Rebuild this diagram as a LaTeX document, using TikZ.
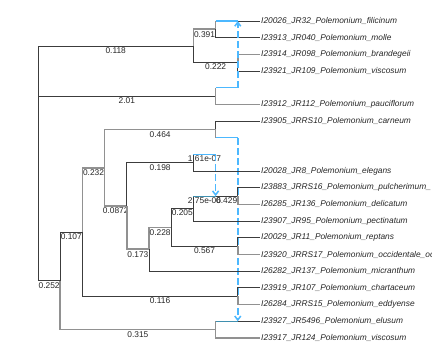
\documentclass[tikz,border=0pt]{standalone}
\usepackage{fontspec}
\setmainfont{Liberation Sans}
\usetikzlibrary{arrows.meta}
\definecolor{dkline}{HTML}{3C3C3C}
\definecolor{grline}{HTML}{919191}
\definecolor{hybblue}{HTML}{4CB8FF}
\definecolor{hybteal}{HTML}{3F8FAF}
\tikzstyle{tip}=[anchor=west, inner xsep=1bp, inner ysep=0pt, font=\fontsize{8.4}{10}\selectfont\itshape, text=black!85]
\tikzstyle{blabel}=[anchor=north, inner sep=1bp, font=\fontsize{8.4}{10}\selectfont, text=black!85]
\tikzstyle{dk}=[draw=dkline, line width=0.8bp]
\tikzstyle{gr}=[draw=grline, line width=1.7bp]
\tikzstyle{hyb}=[draw=hybblue, line width=1.1bp]
\tikzstyle{hybmaj}=[draw=hybteal, line width=1bp]
\tikzstyle{retic}=[draw=hybblue, line width=1.5bp, dash pattern=on 7bp off 3bp, -{Straight Barb[length=4bp,width=6bp]}]

\begin{document}
\begin{tikzpicture}[x=22.2bp,y=-16.68bp]
\useasboundingbox (-1.7117,-0.259) rectangle (17.748,21.324);

% internal nodes (column, row)
\coordinate (root) at (0,9.537);
\coordinate (a) at (7,2.5);
\coordinate (a1) at (8,1.5);
\coordinate (h1) at (9,1);
\coordinate (a2) at (9,3.5);
\coordinate (b) at (8,5.5);
\coordinate (h1m) at (9,5);
\coordinate (i) at (1,16.574);
\coordinate (d) at (2,13.648);
\coordinate (e) at (3,9.797);
\coordinate (c) at (8,7.5);
\coordinate (h2m) at (9,8);
\coordinate (f) at (4,12.094);
\coordinate (g) at (7,9.5);
\coordinate (h3m) at (8,9);
\coordinate (hn) at (5,14.688);
\coordinate (j) at (6,13.375);
\coordinate (k) at (7,12.25);
\coordinate (h3) at (8,11.5);
\coordinate (n89) at (9,11.5);
\coordinate (n1112) at (9,14.5);
\coordinate (n1415) at (9,17.5);
\coordinate (n1617) at (8,19.5);
\coordinate (h2) at (9,19);

% tips
\node[tip] (t1) at (10,1) {I20026\_JR32\_Polemonium\_filicinum};
\node[tip] (t2) at (10,2) {I23913\_JR040\_Polemonium\_molle};
\node[tip] (t3) at (10,3) {I23914\_JR098\_Polemonium\_brandegeii};
\node[tip] (t4) at (10,4) {I23921\_JR109\_Polemonium\_viscosum};
\node[tip] (t5) at (10,6) {I23912\_JR112\_Polemonium\_pauciflorum};
\node[tip] (t6) at (10,7) {I23905\_JRRS10\_Polemonium\_carneum};
\node[tip] (t7) at (10,10) {I20028\_JR8\_Polemonium\_elegans};
\node[tip] (t8) at (10,11) {I23883\_JRRS16\_Polemonium\_pulcherimum\_};
\node[tip] (t9) at (10,12) {I26285\_JR136\_Polemonium\_delicatum};
\node[tip] (t10) at (10,13) {I23907\_JR95\_Polemonium\_pectinatum};
\node[tip] (t11) at (10,14) {I20029\_JR11\_Polemonium\_reptans};
\node[tip] (t12) at (10,15) {I23920\_JRRS17\_Polemonium\_occidentale\_oc};
\node[tip] (t13) at (10,16) {I26282\_JR137\_Polemonium\_micranthum};
\node[tip] (t14) at (10,17) {I23919\_JR107\_Polemonium\_chartaceum};
\node[tip] (t15) at (10,18) {I26284\_JRRS15\_Polemonium\_eddyense};
\node[tip] (t16) at (10,19) {I23927\_JR5496\_Polemonium\_elusum};
\node[tip] (t17) at (10,20) {I23917\_JR124\_Polemonium\_viscosum};

% root
\draw[dk] (root) |- node[blabel,pos=0.75] {0.118} (a);
\draw[dk] (root) |- node[blabel,pos=0.75] {2.01} (b);
\draw[dk] (root) |- node[blabel,pos=0.75] {0.252} (i);

% upper clade
\draw[gr] (a) |- node[blabel,pos=0.75] {0.391} (a1);
\draw[dk] (a) |- node[blabel,pos=0.75] {0.222} (a2);
\draw[gr] (a1) -- (a1 |- h1);
\draw[hyb] (a1 |- h1) -- (h1);
\draw[dk] (h1) -- (t1);
\draw[dk] (a1) |- (t2);
\draw[gr] (a2) |- (t3);
\draw[dk] (a2) |- (t4);
\draw[gr] (b) |- (t5);
\draw[gr] (b) -- (b |- h1m);
\draw[hyb] (b |- h1m) -- (h1m);
\draw[retic] (h1m) -- (h1);

% lower clade
\draw[dk] (i) |- node[blabel,pos=0.75] {0.107} (d);
\draw[gr] (i) |- node[blabel,pos=0.75] {0.315} (n1617);
\draw[gr] (d) |- node[blabel,pos=0.75] {0.232} (e);
\draw[dk] (d) |- node[blabel,pos=0.75] {0.116} (n1415);
\draw[gr] (e) |- node[blabel,pos=0.75] {0.464} (c);
\draw[gr] (e) |- node[blabel,pos=0.75] {0.0872} (f);
\draw[dk] (c) |- (t6);
\draw[gr] (c) -- (c |- h2m);
\draw[hyb] (c |- h2m) -- (h2m);
\draw[retic] (h2m) -- (h2);
\draw[dk] (f) |- node[blabel,pos=0.75] {0.198} (g);
\draw[gr] (f) |- node[blabel,pos=0.75] {0.173} (hn);
\draw[dk] (g) |- (t7);
\draw[dk] (g) -- (g |- h3m);
\draw[hyb] (g |- h3m) -- node[blabel] {1.61e-07} (h3m);
\draw[retic] (h3m) -- (h3);
\draw[gr] (hn) |- node[blabel,pos=0.75] {0.228} (j);
\draw[dk] (hn) |- (t13);
\draw[dk] (j) |- node[blabel,pos=0.75] {0.205} (k);
\draw[dk] (j) |- node[blabel,pos=0.75] {0.567} (n1112);
\draw[dk] (k) -- (k |- h3);
\draw[hybmaj] (k |- h3) -- node[blabel] {2.75e-06} (h3);
\draw[dk] (k) |- (t10);
\draw[dk] (h3) -- node[blabel] {0.429} (n89);
\draw[dk] (n89) |- (t8);
\draw[gr] (n89) |- (t9);
\draw[dk] (n1112) |- (t11);
\draw[gr] (n1112) |- (t12);
\draw[dk] (n1415) |- (t14);
\draw[gr] (n1415) |- (t15);
\draw[gr] (n1617) -- (n1617 |- h2);
\draw[hybmaj] (n1617 |- h2) -- (h2);
\draw[dk] (h2) -- (t16);
\draw[gr] (n1617) |- (t17);

\end{tikzpicture}
\end{document}
